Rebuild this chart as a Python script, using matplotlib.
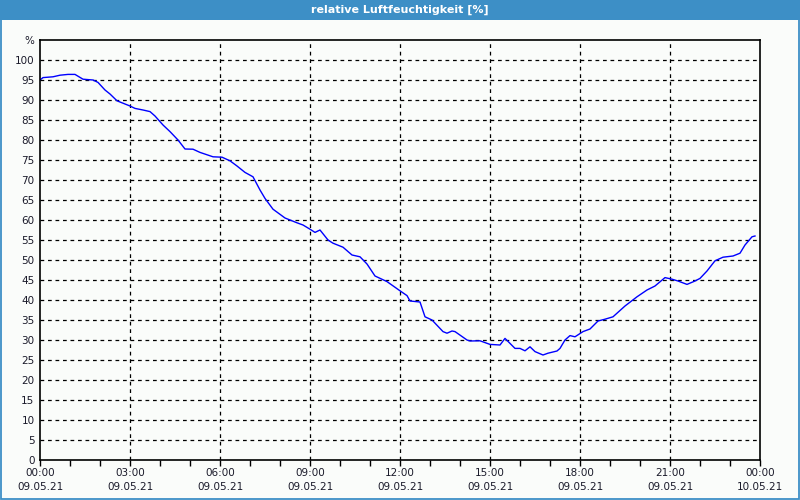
import matplotlib
matplotlib.use("Agg")
import matplotlib.pyplot as plt
from matplotlib.patches import Rectangle
import numpy as np

title = "relative Luftfeuchtigkeit [%]"
minutes = [0, 6, 26, 40, 56, 70, 86, 106, 116, 130, 140, 154, 170, 180, 190, 206, 220, 230,
           246, 260, 276, 290, 306, 320, 346, 364, 380, 394, 410, 426, 440, 450, 466, 490,
           514, 526, 540, 550, 560, 576, 586, 606, 624, 640, 654, 670, 694, 720, 734, 740,
           760, 770, 784, 806, 814, 824, 830, 854, 860, 880, 900, 920, 930, 950, 960, 970,
           980, 990, 1006, 1016, 1034, 1040, 1050, 1060, 1070, 1086, 1100, 1116, 1130,
           1146, 1170, 1194, 1214, 1230, 1250, 1264, 1276, 1294, 1310, 1320, 1334, 1350,
           1366, 1386, 1400, 1410, 1424, 1430]
humidity = [95.0, 95.6, 95.8, 96.2, 96.4, 96.4, 95.2, 95.0, 94.4, 92.5, 91.5, 89.8, 89.0, 88.5,
            87.9, 87.5, 87.1, 86.0, 83.75, 82.1, 80.0, 77.75, 77.7, 76.9, 75.8, 75.7, 74.8,
            73.5, 71.9, 70.8, 67.5, 65.4, 62.7, 60.5, 59.3, 58.75, 57.7, 56.9, 57.5, 55.0,
            54.2, 53.2, 51.25, 50.8, 49.0, 46.0, 44.6, 42.3, 41.1, 39.75, 39.5, 35.8, 35.0,
            32.1, 31.7, 32.25, 32.1, 30.0, 29.75, 29.8, 28.9, 28.75, 30.4, 27.9, 27.9, 27.3,
            28.3, 27.1, 26.25, 26.7, 27.25, 27.9, 30.0, 31.1, 30.8, 32.1, 32.75, 34.75, 35.2,
            35.8, 38.5, 40.8, 42.5, 43.5, 45.6, 45.2, 44.75, 43.9, 44.75, 45.4, 47.25, 49.8,
            50.7, 51.0, 51.7, 53.75, 55.8, 56.0]

x_tick_labels = ["00:00\n09.05.21", "03:00\n09.05.21", "06:00\n09.05.21", "09:00\n09.05.21",
                 "12:00\n09.05.21", "15:00\n09.05.21", "18:00\n09.05.21", "21:00\n09.05.21",
                 "00:00\n10.05.21"]
y_ticks = list(range(0, 101, 5))

BG = "#fafcfa"
BLUE = "#3d8fc6"

fig = plt.figure(figsize=(8, 5), dpi=100)
fig.patch.set_facecolor(BG)

# title bar and border
fig.add_artist(Rectangle((0, 1 - 20 / 500), 1, 20 / 500, transform=fig.transFigure,
                         facecolor=BLUE, edgecolor="none", zorder=0))
fig.add_artist(Rectangle((0.6 / 800, 0.8 / 500), 798.6 / 800, 498 / 500,
                         transform=fig.transFigure, facecolor="none", edgecolor=BLUE,
                         linewidth=1.3, zorder=5))
fig.text(0.5, 1 - 10 / 500, title, color="white", ha="center", va="center",
         fontsize=8, fontweight="bold")

ax = fig.add_axes([40 / 800, 40 / 500, 720 / 800, 420 / 500])
ax.set_facecolor(BG)
ax.plot(np.array(minutes) / 60.0, humidity, color="#0000ff", linewidth=1)

ax.set_xlim(0, 24)
ax.set_ylim(0, 105)
ax.set_xticks(np.arange(0, 25, 3))
ax.set_xticklabels(x_tick_labels, linespacing=1.5)
ax.set_xticks(np.arange(0, 25, 1), minor=True)
ax.set_yticks(y_ticks + [105])
ax.set_yticklabels([str(v) for v in y_ticks] + ["%"])

ax.tick_params(axis="x", which="both", direction="out", length=4, width=1, color="black",
               labelsize=7.5, pad=2, labelcolor="#1a1a2a")
ax.tick_params(axis="y", length=0, pad=4, labelsize=7.5, labelcolor="#1a1a2a")

for v in y_ticks[1:]:
    ax.axhline(v, color="black", linestyle=(0, (3, 3)), linewidth=0.9, zorder=1)
for h in range(3, 24, 3):
    ax.axvline(h, color="black", linestyle=(0, (3, 3)), linewidth=0.9, zorder=1)

for s in ax.spines.values():
    s.set_color("black")
    s.set_linewidth(1.2)

fig.savefig("out.png", dpi=100, facecolor=fig.get_facecolor())
